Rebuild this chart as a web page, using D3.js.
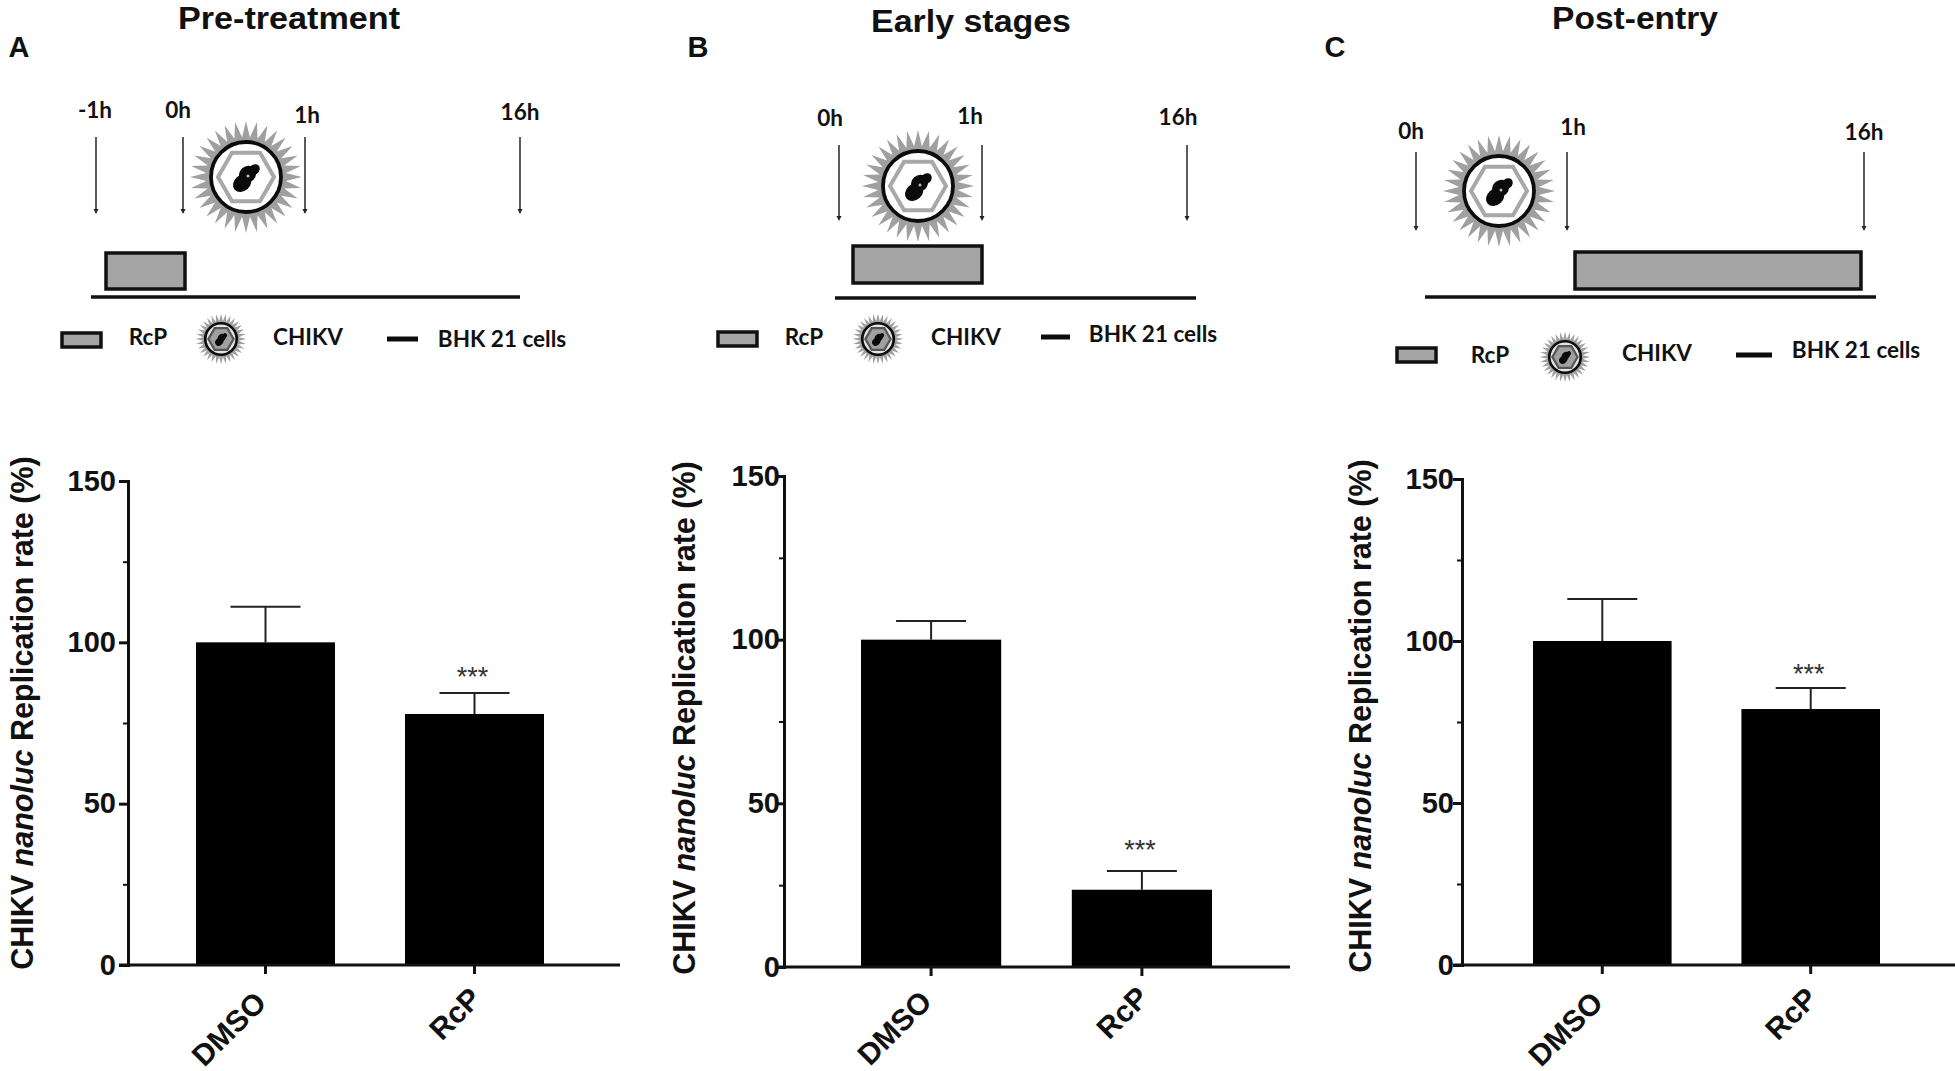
<!DOCTYPE html>
<html>
<head>
<meta charset="utf-8">
<script src="https://cdn.jsdelivr.net/npm/d3@7"></script>
<style>
  html, body { margin: 0; padding: 0; background: #fff; }
  text { font-family: "Liberation Sans", Arial, sans-serif; font-weight: bold; fill: #111; }
  .sch { font-family: Lato, "Open Sans", sans-serif; font-size: 22.5px; }
</style>
</head>
<body>
<svg id="fig" width="1955" height="1071"></svg>
<script>
// values
const panelTitles = ["Pre-treatment", "Early stages", "Post-entry"];
const panelLetters = ["A", "B", "C"];
const groups = ["DMSO", "RcP"];
const dmsoMeans = [100, 100, 100];
const dmsoTops = [111, 105.7, 113];
const rcpMeans = [77.8, 23.6, 79];
const rcpTops = [84.3, 29.3, 85.5];
const significance = ["***", "***", "***"];
const yTicks = [0, 50, 100, 150];
const yMinorTicks = [25, 75, 125];
const yLabelParts = [["CHIKV ", "normal"], ["nanoluc", "italic"], [" Replication rate (%)", "normal"]];
const hourLabels = [["-1h", "0h", "1h", "16h"], ["0h", "1h", "16h"], ["0h", "1h", "16h"]];
const legendLabels = ["RcP", "CHIKV", "BHK 21 cells"];

// layout of the bar charts, in page pixels
const axisX = [128, 784, 1462];
const axisEnd = [620, 1290, 1955];
const yTop = [481, 476, 479];
const yBottom = [965, 967, 965];
const bandLeft = [196, 861, 1533];
const bandRight = [544, 1212, 1880];
const starDy = [-16, -22, -14];
const tickLen = [9, 7, 9];
const tickPad = [3, -3, -1];
const yLabelXY = [[33, 713], [695, 718], [1371, 716]];
const tickLabelShift = [[-5, 32], [1, 28]];
const tickLabelLift = [0, 3, 0];

// layout of the schematics
const titleBaseline = [[289, 29], [971, 32], [1635, 29]];
const titleWidth = [222, 200, 166];
const letterXY = [[19, 47], [698, 47], [1335, 47]];
const arrowX = [[96, 183, 305, 520], [839, 982, 1187], [1416, 1567, 1864]];
const arrowY = [[137, 214], [145, 221], [152, 231]];
const hourXY = [
  [[95, 110], [178, 110], [307, 115], [520, 112]],
  [[830, 118], [970, 116], [1178, 117]],
  [[1411, 131], [1573, 127], [1864, 132]]
];
const virusXY = [[246, 177], [918, 186], [1499, 191]];
const doseRect = [[106, 253, 79, 36], [853, 246, 129, 37], [1575, 252, 286, 37]];
const cellLine = [[91, 520, 297], [835, 1196, 298], [1425, 1876, 297]];
const legendRect = [[62, 333, 39, 14], [718, 332, 39, 14], [1397, 348, 39, 14]];
const legendRcp = [[148, 337], [804, 337], [1490, 355]];
const legendVirus = [[221, 339], [878, 339], [1565, 357]];
const legendChikv = [[308, 337], [966, 337], [1657, 353]];
const legendLine = [[387, 418, 339], [1041, 1070, 337], [1736, 1772, 355]];
const legendBhk = [[502, 339], [1153, 334], [1856, 350]];

const svg = d3.select("#fig");

// CHIKV particle: spikes, envelope, capsid hexagon, genome blob
function drawVirus(g, cx, cy, s, big) {
  const v = g.append("g").attr("transform", `translate(${cx},${cy}) scale(${s})`);
  const spikes = 32;
  const star = d3.range(spikes * 2).map(i => [i * Math.PI / spikes, i % 2 ? 40 : 56]);
  v.append("path")
    .attr("d", d3.lineRadial().curve(d3.curveLinearClosed)(star))
    .attr("fill", "#a0a0a0");
  v.append("circle").attr("r", 35).attr("fill", big ? "#fff" : "#e4e4e4")
    .attr("stroke", "#0c0c0c").attr("stroke-width", big ? 3.8 : 6);
  const hex = d3.range(6).map(i => [Math.PI / 2 + i * Math.PI / 3, 28]);
  v.append("path")
    .attr("d", d3.lineRadial().curve(d3.curveLinearClosed)(hex))
    .attr("fill", big ? "none" : "#a0a0a0")
    .attr("stroke", big ? "#a8a8a8" : "#555").attr("stroke-width", big ? 4 : 5);
  const blob = v.append("g").attr("transform", "rotate(-42)").attr("fill", "#0a0a0a");
  blob.append("ellipse").attr("cx", -7).attr("cy", 2).attr("rx", 10).attr("ry", 8);
  blob.append("ellipse").attr("cx", 3).attr("cy", -1).attr("rx", 9).attr("ry", 8);
  blob.append("ellipse").attr("cx", 11).attr("cy", 0).attr("rx", 6).attr("ry", 5);
  if (big) v.append("circle").attr("cx", 2).attr("cy", -1).attr("r", 1.5).attr("fill", "#bbb");
}

panelTitles.forEach((title, p) => {
  const g = svg.append("g");

  // header
  g.append("text").attr("x", titleBaseline[p][0] - titleWidth[p] / 2).attr("y", titleBaseline[p][1])
    .attr("textLength", titleWidth[p]).attr("lengthAdjust", "spacingAndGlyphs")
    .style("font-size", "32px").text(title);
  g.append("text").attr("x", letterXY[p][0]).attr("y", letterXY[p][1])
    .attr("text-anchor", "middle").attr("dy", "0.35em")
    .style("font-size", "29px").text(panelLetters[p]);

  // timeline schematic
  hourLabels[p].forEach((h, i) => {
    g.append("text").attr("class", "sch")
      .attr("x", hourXY[p][i][0]).attr("y", hourXY[p][i][1])
      .attr("text-anchor", "middle").attr("dy", "0.35em").text(h);
    const ax = arrowX[p][i];
    g.append("line").attr("x1", ax).attr("x2", ax)
      .attr("y1", arrowY[p][0]).attr("y2", arrowY[p][1] - 3)
      .attr("stroke", "#333").attr("stroke-width", 1.6);
    g.append("path")
      .attr("d", d3.line()([[ax - 2.5, arrowY[p][1] - 5], [ax + 2.5, arrowY[p][1] - 5], [ax, arrowY[p][1]]]))
      .attr("fill", "#222");
  });
  drawVirus(g, virusXY[p][0], virusXY[p][1], 1, true);
  const [rx, ry, rw, rh] = doseRect[p];
  g.append("rect").attr("x", rx).attr("y", ry).attr("width", rw).attr("height", rh)
    .attr("fill", "#a5a5a5").attr("stroke", "#111").attr("stroke-width", 3.5);
  g.append("line").attr("x1", cellLine[p][0]).attr("x2", cellLine[p][1])
    .attr("y1", cellLine[p][2]).attr("y2", cellLine[p][2])
    .attr("stroke", "#111").attr("stroke-width", 3.6);

  // schematic legend
  const [lx, ly, lw, lh] = legendRect[p];
  g.append("rect").attr("x", lx).attr("y", ly).attr("width", lw).attr("height", lh)
    .attr("fill", "#a5a5a5").attr("stroke", "#111").attr("stroke-width", 3.5);
  drawVirus(g, legendVirus[p][0], legendVirus[p][1], 0.45, false);
  g.append("line").attr("x1", legendLine[p][0]).attr("x2", legendLine[p][1])
    .attr("y1", legendLine[p][2]).attr("y2", legendLine[p][2])
    .attr("stroke", "#0c0c0c").attr("stroke-width", 5);
  [legendRcp, legendChikv, legendBhk].forEach((xy, i) => {
    g.append("text").attr("class", "sch").attr("x", xy[p][0]).attr("y", xy[p][1])
      .attr("text-anchor", "middle").attr("dy", "0.35em").text(legendLabels[i]);
  });

  // bar chart
  const y = d3.scaleLinear().domain([0, 150]).range([yBottom[p], yTop[p]]);
  const x = d3.scaleBand().domain(groups).range([bandLeft[p], bandRight[p]])
    .paddingInner(0.335).paddingOuter(0);
  const means = [dmsoMeans[p], rcpMeans[p]];
  const tops = [dmsoTops[p], rcpTops[p]];

  const bars = g.append("g");
  groups.forEach((name, i) => {
    const cx = x(name) + x.bandwidth() / 2;
    bars.append("line").attr("x1", cx).attr("x2", cx)
      .attr("y1", y(means[i])).attr("y2", y(tops[i]))
      .attr("stroke", "#222").attr("stroke-width", 2);
    bars.append("line").attr("x1", cx - 35).attr("x2", cx + 35)
      .attr("y1", y(tops[i])).attr("y2", y(tops[i]))
      .attr("stroke", "#222").attr("stroke-width", 2);
    bars.append("rect").attr("x", x(name)).attr("width", x.bandwidth())
      .attr("y", y(means[i])).attr("height", y(0) - y(means[i]))
      .attr("fill", "#000");
  });
  g.append("text")
    .attr("x", x("RcP") + x.bandwidth() / 2 - 2)
    .attr("y", y(rcpTops[p]) + starDy[p])
    .attr("text-anchor", "middle").attr("dy", "0.35em")
    .style("font-size", "27px").style("font-weight", "normal").style("fill", "#333")
    .text(significance[p]);

  const yAxis = g.append("g").attr("transform", `translate(${axisX[p]},0)`)
    .call(d3.axisLeft(y).tickValues(yTicks).tickSize(tickLen[p]).tickPadding(tickPad[p]).tickFormat(d3.format("d")));
  yAxis.select(".domain").attr("stroke", "#111").attr("stroke-width", 3);
  yAxis.selectAll(".tick line").attr("stroke", "#111").attr("stroke-width", 3);
  yAxis.selectAll(".tick text").style("font-size", "29px").style("font-family", "Liberation Sans").style("font-weight", "bold");

  const yMinor = g.append("g").attr("transform", `translate(${axisX[p]},0)`)
    .call(d3.axisLeft(y).tickValues(yMinorTicks).tickSize(5).tickFormat(""));
  yMinor.select(".domain").remove();
  yMinor.selectAll(".tick line").attr("stroke", "#111").attr("stroke-width", 2);

  g.append("line").attr("x1", axisX[p] - tickLen[p]).attr("x2", axisEnd[p])
    .attr("y1", y(0)).attr("y2", y(0)).attr("stroke", "#111").attr("stroke-width", 3);

  const xAxis = g.append("g").attr("transform", `translate(0,${y(0)})`)
    .call(d3.axisBottom(x).tickSize(9).tickSizeOuter(0));
  xAxis.select(".domain").remove();
  xAxis.selectAll(".tick line").attr("stroke", "#111").attr("stroke-width", 3);
  xAxis.selectAll(".tick text")
    .attr("text-anchor", "end").attr("y", 0).attr("dy", "0.35em")
    .attr("transform", (d, i) => `translate(${tickLabelShift[i][0]},${tickLabelShift[i][1] - tickLabelLift[p]}) rotate(-45)`)
    .style("font-size", "30px").style("font-family", "Liberation Sans").style("font-weight", "bold");

  // y axis title with the italic word
  const yLabel = g.append("text")
    .attr("transform", `translate(${yLabelXY[p][0]},${yLabelXY[p][1]}) rotate(-90)`)
    .attr("text-anchor", "middle")
    .style("font-size", "30.5px");
  yLabelParts.forEach(([t, style]) => {
    yLabel.append("tspan").style("font-style", style).attr("xml:space", "preserve").text(t);
  });
});
</script>
</body>
</html>
